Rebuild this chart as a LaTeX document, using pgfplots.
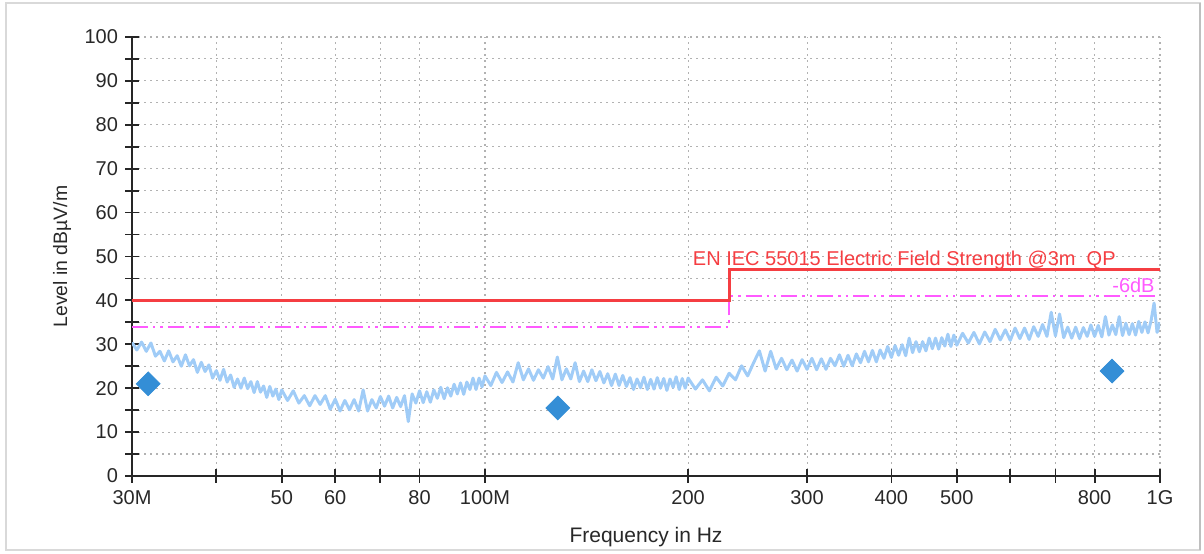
\documentclass[border=0pt]{standalone}
\usepackage{fontspec}
\setmainfont{Liberation Sans}
\usepackage{pgfplots}
\pgfplotsset{compat=1.18}
\definecolor{trace}{RGB}{160,204,247}
\definecolor{qp}{RGB}{52,142,214}
\definecolor{limit}{RGB}{245,62,66}
\definecolor{margin}{RGB}{255,90,255}
\definecolor{txt}{RGB}{40,40,40}

\begin{document}
\begin{tikzpicture}
\begin{axis}[
  scale only axis, width=514pt, height=219.5pt,
  xmode=log, xmin=30, xmax=1000, ymin=0, ymax=100,
  axis lines=left, axis line style={-, line width=0.9pt, black!85},
  xtick={30,40,50,60,70,80,100,200,300,400,500,600,700,800,1000},
  xticklabels={30M,,50,60,,80,100M,200,300,400,500,,,800,1G},
  minor xtick={},
  ytick={0,10,...,100}, minor ytick={5,15,...,95},
  tick align=center, major tick length=7pt, minor tick length=7pt,
  every tick/.style={black!85, line width=0.9pt},
  grid=both,
  major grid style={gray!60, line width=0.55pt, dash pattern=on 1pt off 2pt},
  minor grid style={gray!60, line width=0.55pt, dash pattern=on 1pt off 2pt},
  ticklabel style={font=\fontsize{10}{12}\selectfont, text=txt},
  /pgf/number format/assume math mode=true,
  xlabel={Frequency in Hz}, ylabel={Level in dBµV/m},
  xlabel style={at={(axis description cs:0.5,-0.139)}, anchor=center,
    font=\fontsize{10.5}{12}\selectfont, text=txt},
  ylabel style={at={(axis description cs:-0.068,0.5)}, anchor=center,
    font=\fontsize{9.7}{11}\selectfont, text=txt},
]
% measured trace
\addplot[trace, line width=1.5pt, line join=round] coordinates {
(30.0,30.4)(30.5,28.7)(31.0,30.5)(31.5,28.4)(32.0,30.3)(32.5,27.3)(33.0,28.4)(33.5,26.2)
(34.0,28.5)(34.5,26.0)(35.0,27.4)(35.5,25.0)(36.0,27.6)(36.5,25.1)(37.0,26.5)(37.5,23.6)
(38.0,25.9)(38.5,23.8)(39.0,25.3)(39.5,22.3)(40.0,24.0)(40.5,21.8)(41.0,24.3)(41.5,21.4)
(42.0,23.0)(42.5,20.2)(43.0,22.1)(43.5,20.0)(44.0,22.3)(44.5,19.9)(45.0,21.5)(45.5,19.0)
(46.0,21.5)(46.5,19.1)(47.0,20.5)(47.5,17.9)(48.0,20.4)(48.5,18.2)(49.0,19.8)(49.5,17.4)
(50,19.6)(51,17.2)(52,19.4)(53,16.6)(54,18.3)(55,16.0)(56,18.3)(57,16.3)(58,18.3)(59,15.2)
(60,17.5)(61,14.8)(62,17.2)(63,15.1)(64,17.4)(65,14.8)(66,19.6)(67,14.8)(68,17.4)(69,15.5)
(70,18.1)(71,15.9)(72,18.2)(73,15.5)(74,17.9)(75,15.8)(76,18.3)(77,12.4)(78,18.7)(79,16.6)
(80,19.4)(81,16.7)(82,19.2)(83,16.8)(84,19.6)(85,17.7)(86,20.2)(87,17.6)(88,20.1)(89,18.2)
(90,20.9)(91,18.7)(92,21.2)(93,18.6)(94,21.4)(95,19.7)(96,22.3)(97,19.7)(98,22.3)(99,20.3)
(100,22.8)(102,20.6)(104,23.6)(106,21.3)(108,23.7)(110,21.4)(112,25.8)(114,21.9)(116,24.4)
(118,21.8)(120,24.2)(122,22.3)(124,24.9)(126,22.1)(128,27.1)(130,21.9)(132,24.4)(134,22.1)
(136,25.8)(138,21.5)(140,23.9)(142,21.5)(144,24.2)(146,21.7)(148,23.8)(150,21.2)(152,23.3)
(154,20.6)(156,23.2)(158,20.6)(160,22.9)(162,20.4)(164,22.4)(166,19.7)(168,22.1)(170,20.1)
(172,22.5)(174,19.7)(176,22.0)(178,19.8)(180,22.4)(182,20.0)(184,22.2)(186,19.5)(188,22.1)
(190,20.2)(192,22.6)(194,19.7)(196,22.2)(198,20.0)
(200,22.3)(205,19.8)(210,21.9)(215,19.4)(220,22.5)(225,20.5)(230,23.4)(235,21.9)(240,25.1)
(245,22.8)(250,25.8)(255,28.5)(260,23.9)(265,28.4)(270,24.4)(275,26.8)(280,24.2)(285,26.4)
(290,23.9)(295,26.5)(300,24.3)(305,26.8)(310,24.2)(315,26.7)(320,24.3)(325,26.8)(330,25.1)
(335,27.6)(340,25.0)(345,27.5)(350,25.1)(355,27.8)(360,25.8)(365,28.4)(370,26.0)(375,28.6)
(380,26.0)(385,28.7)(390,26.8)(395,29.5)(400,27.0)(405,29.7)(410,27.5)(415,29.9)(420,27.4)
(425,31.4)(430,28.1)(435,30.6)(440,28.3)(445,30.6)(450,28.5)(455,31.4)(460,29.0)(465,31.4)
(470,28.9)(475,31.5)(480,29.6)(485,32.3)(490,29.5)(495,32.1)
(500,29.8)(510,32.5)(520,30.3)(530,32.7)(540,30.1)(550,32.8)(560,30.6)(570,33.4)(580,31.0)
(590,33.3)(600,30.9)(610,33.7)(620,31.3)(630,33.7)(640,31.1)(650,34.0)(660,31.8)(670,34.5)
(680,31.8)(690,37.3)(700,31.9)(710,36.9)(720,31.5)(730,33.9)(740,31.4)(750,33.9)(760,31.3)
(770,33.8)(780,31.8)(790,34.4)(800,31.8)(810,34.3)(820,31.7)(830,36.3)(840,32.1)(850,34.4)
(860,32.2)(870,36.3)(880,32.0)(890,34.8)(900,32.2)(910,34.7)(920,32.1)(930,35.2)(940,32.7)
(950,35.1)(960,32.6)(970,35.4)(980,39.4)(990,32.7)(1000,35.0)};
% limit and margin
\addplot[margin, line width=0.9pt, dash pattern=on 8pt off 2.5pt on 1.2pt off 2.5pt on 1.2pt off 2.5pt]
  coordinates {(30,34) (230,34) (230,41) (1000,41)};
\addplot[limit, line width=1.5pt] coordinates {(30,40) (230,40) (230,47) (1000,47)};
% QP results
\addplot[only marks, mark=square*, mark size=4.2pt,
  mark options={rotate=45, fill=qp, draw=qp}] coordinates {(31.7,21) (128.2,15.5) (849,23.9)};
\node[anchor=base west, inner sep=0pt, text=limit, font=\fontsize{10}{12}\selectfont]
  at (axis cs:203,48) {EN IEC 55015 Electric Field Strength @3m\ \ QP};
\node[anchor=base east, inner sep=0pt, text=margin, font=\fontsize{10}{12}\selectfont]
  at (axis cs:983,41.8) {-6dB};
\coordinate (ll) at (rel axis cs:0,0);
\coordinate (ur) at (rel axis cs:1,1);
\end{axis}
\path ([shift={(-66pt,-37.5pt)}]ll) rectangle ([shift={(22pt,18.5pt)}]ur);
\draw[gray!30, line width=0.8pt] ([shift={(-63pt,-37pt)}]ll) rectangle ([shift={(20pt,17pt)}]ur);
\draw[gray!50, line width=1.2pt] ([shift={(20pt,-37pt)}]ll-|ur) -- ([shift={(20pt,17pt)}]ur);
\end{tikzpicture}
\end{document}
